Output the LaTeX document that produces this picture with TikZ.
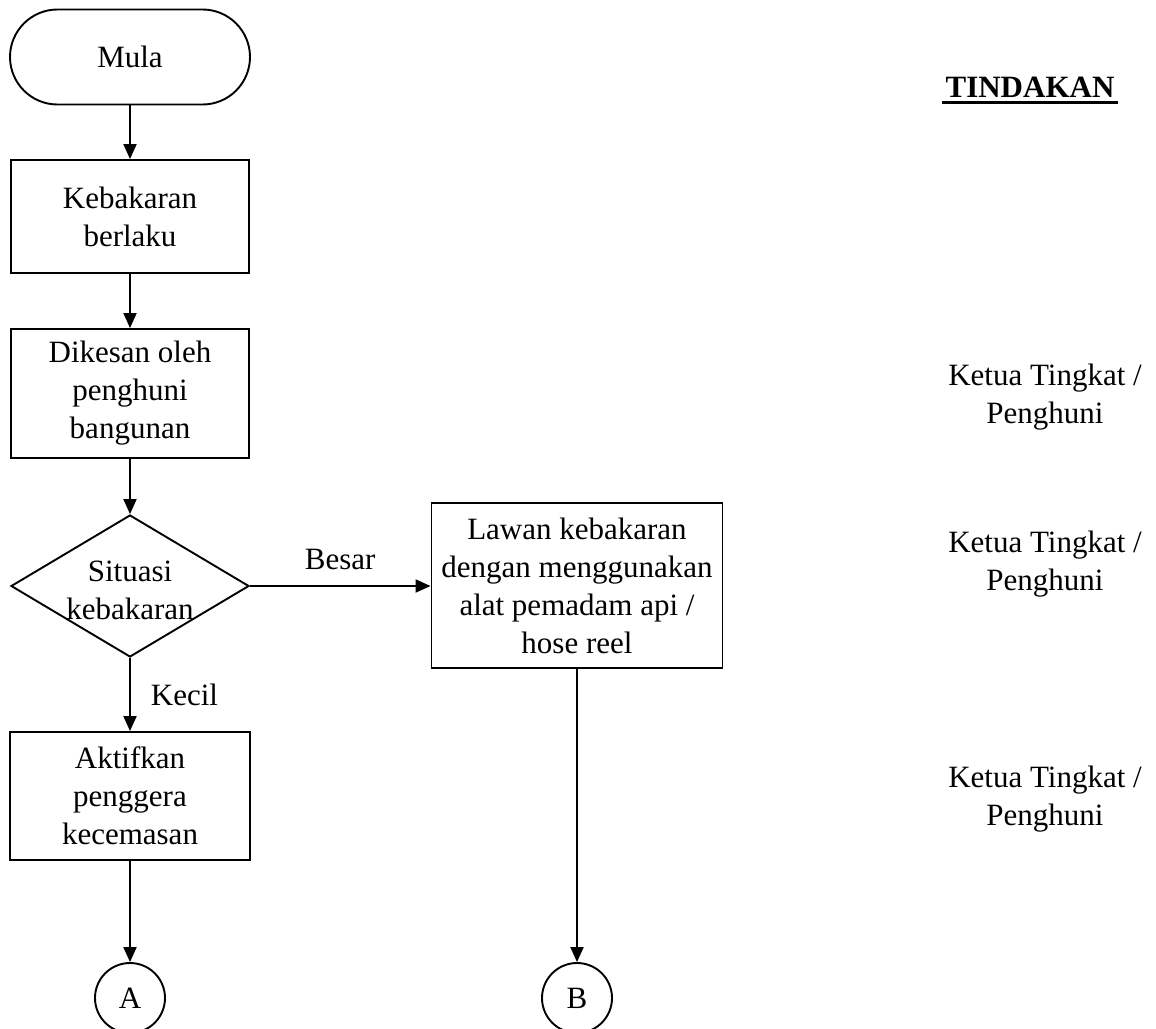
\documentclass[tikz,border=0pt]{standalone}
\usepackage{fontspec}
\setmainfont{Liberation Serif}
\usetikzlibrary{arrows.meta,shapes.geometric,shapes.misc}
\begin{document}
\begin{tikzpicture}[x=1pt,y=-1pt,
  every node/.style={font=\fontsize{31}{38}\selectfont, align=center, inner sep=0pt},
  shapeline/.style={draw, line width=1.9pt},
  term/.style={shapeline, rounded rectangle, rounded rectangle arc length=180, minimum width=240pt, minimum height=95pt},
  procbox/.style={shapeline, rectangle},
  decision/.style={shapeline, diamond, minimum width=238pt, minimum height=142pt},
  connector/.style={shapeline, circle, minimum size=70pt},
  flow/.style={line width=1.9pt, -{Triangle[length=15pt,width=13pt]}},
  side/.style={},
]
\useasboundingbox (0,0) rectangle (1156,1028);
\begin{scope}
\clip (0,0) rectangle (1156,1028);
\node[term] (mula) at (130,57) {Mula};
\node[procbox, minimum width=238pt, minimum height=113pt] (keb) at (130,216.5) {Kebakaran\\berlaku};
\node[procbox, minimum width=238pt, minimum height=129pt] (dik) at (130,393.5) {Dikesan oleh\\penghuni\\bangunan};
\node[decision] (sit) at (130,586) {};
\node (sittext) at (130,590) {Situasi\\kebakaran};
\node[procbox, minimum width=291pt, minimum height=165pt] (lawan) at (577,585.5) {Lawan kebakaran\\dengan menggunakan\\alat pemadam api /\\hose reel};
\node[procbox, minimum width=240pt, minimum height=128pt] (akt) at (130,796) {Aktifkan\\penggera\\kecemasan};
\node[connector] (A) at (130,998) {A};
\node[connector] (B) at (577,998) {B};

\draw[flow] (mula.south) -- (keb.north);
\draw[flow] (keb.south) -- (dik.north);
\draw[flow] (dik.south) -- (sit.north);
\draw[flow] (sit.east) -- (sit.east -| lawan.west) node[midway, above=15pt] (besar) {Besar};
\draw[flow] (sit.south) -- (akt.north) node[midway, right=20pt] (kecil) {Kecil};
\draw[flow] (akt.south) -- (A.north);
\draw[flow] (lawan.south) -- (B.north);

\node[anchor=base] (tindakan) at (1030,97) {\textbf{TINDAKAN}};
\draw[line width=2.6pt] ([xshift=-3pt,yshift=-5.5pt]tindakan.base west) -- ([xshift=3pt,yshift=-5.5pt]tindakan.base east);
\node[side] (k1) at (1045,397) {Ketua Tingkat /\\Penghuni};
\node[side] (k2) at (1045,564) {Ketua Tingkat /\\Penghuni};
\node[side] (k3) at (1045,799) {Ketua Tingkat /\\Penghuni};
\end{scope}
\end{tikzpicture}
\end{document}
